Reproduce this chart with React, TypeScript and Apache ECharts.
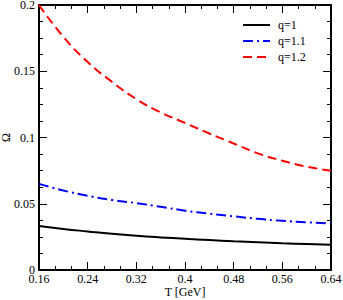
import React, { useEffect, useRef } from "react";
import * as echarts from "echarts";

const temps = [0.16, 0.2, 0.24, 0.28, 0.32, 0.36, 0.4, 0.44, 0.48, 0.52, 0.56, 0.6, 0.64];
const q1 = [0.0332, 0.031, 0.0291, 0.0273, 0.0258, 0.0246, 0.0236, 0.0226, 0.0217, 0.021, 0.0202, 0.0196, 0.019];
const q11 = [0.065, 0.06, 0.056, 0.0528, 0.0505, 0.0477, 0.0448, 0.0425, 0.0405, 0.0386, 0.0371, 0.036, 0.035];
const q12 = [0.2, 0.176, 0.157, 0.142, 0.129, 0.119, 0.111, 0.103, 0.0955, 0.088, 0.0825, 0.078, 0.075];
const seriesNames = ["q=1", "q=1.1", "q=1.2"];

const FONT = "Liberation Serif";

export default function App() {
  const ref = useRef<HTMLDivElement>(null);
  useEffect(() => {
    const chart = echarts.init(ref.current!, null, { renderer: "svg" });
    const fmt = (v: number) => String(parseFloat(v.toFixed(3)));
    const axisCommon = {
      axisLine: { show: true, onZero: false, lineStyle: { color: "#000", width: 2 } },
      axisTick: { show: true, inside: true, length: 8, lineStyle: { color: "#000", width: 1 } },
      minorTick: { show: true, length: 4, lineStyle: { color: "#000", width: 1 } },
      splitLine: { show: false },
    };
    const mk = (data: number[]) => temps.map((t, i) => [t, data[i]]);
    chart.setOption({
      animation: false,
      backgroundColor: "#fff",
      grid: { left: 39, right: 12, top: 5, bottom: 30, containLabel: false, outerBoundsMode: "none" },
      xAxis: [
        {
          ...axisCommon,
          type: "value",
          position: "bottom",
          min: 0.16,
          max: 0.64,
          interval: 0.08,
          minorTick: { ...axisCommon.minorTick, splitNumber: 3 },
          axisLabel: { color: "#000", fontFamily: FONT, fontSize: 12, lineHeight: 11, margin: 3, formatter: fmt },
          name: "T [GeV]",
          nameLocation: "middle",
          nameGap: 16,
          nameMoveOverlap: false,
          nameTextStyle: { color: "#000", fontFamily: FONT, fontSize: 12, lineHeight: 11 },
        },
        {
          ...axisCommon,
          type: "value",
          position: "top",
          min: 0.16,
          max: 0.64,
          interval: 0.08,
          minorTick: { ...axisCommon.minorTick, splitNumber: 3 },
          axisLabel: { show: false },
        },
      ],
      yAxis: [
        {
          ...axisCommon,
          type: "value",
          position: "left",
          min: 0,
          max: 0.2,
          interval: 0.05,
          minorTick: { ...axisCommon.minorTick, splitNumber: 4 },
          axisLabel: { color: "#000", fontFamily: FONT, fontSize: 12, lineHeight: 9, margin: 4, formatter: fmt },
          name: "Ω",
          nameLocation: "middle",
          nameGap: 28,
          nameRotate: 90,
          nameMoveOverlap: false,
          nameTextStyle: { color: "#000", fontFamily: FONT, fontSize: 12, lineHeight: 10 },
        },
        {
          ...axisCommon,
          type: "value",
          position: "right",
          min: 0,
          max: 0.2,
          interval: 0.05,
          minorTick: { ...axisCommon.minorTick, splitNumber: 4 },
          axisLabel: { show: false },
        },
      ],
      series: [
        {
          name: seriesNames[0],
          type: "line",
          data: mk(q1),
          smooth: true,
          showSymbol: false,
          lineStyle: { color: "#000", width: 2, type: "solid" },
        },
        {
          name: seriesNames[1],
          type: "line",
          data: mk(q11),
          smooth: true,
          showSymbol: false,
          lineStyle: { color: "#0000ff", width: 2, type: [10, 4, 2, 4] },
        },
        {
          name: seriesNames[2],
          type: "line",
          data: mk(q12),
          smooth: true,
          showSymbol: false,
          lineStyle: { color: "#ff0000", width: 2, type: [9, 5] },
        },
      ],
      graphic: [
        { type: "line", shape: { x1: 243, y1: 25, x2: 270, y2: 25 }, style: { stroke: "#000", lineWidth: 2 } },
        { type: "line", shape: { x1: 243, y1: 41, x2: 270, y2: 41 }, style: { stroke: "#0000ff", lineWidth: 2, lineDash: [10, 4, 2, 4] } },
        { type: "line", shape: { x1: 243, y1: 57, x2: 270, y2: 57 }, style: { stroke: "#ff0000", lineWidth: 2, lineDash: [9, 5] } },
        { type: "text", x: 278, y: 25, style: { text: seriesNames[0], fill: "#000", font: `12px "${FONT}"`, verticalAlign: "middle" } },
        { type: "text", x: 278, y: 41, style: { text: seriesNames[1], fill: "#000", font: `12px "${FONT}"`, verticalAlign: "middle" } },
        { type: "text", x: 278, y: 57, style: { text: seriesNames[2], fill: "#000", font: `12px "${FONT}"`, verticalAlign: "middle" } },
      ],
    });
    return () => chart.dispose();
  }, []);
  return <div ref={ref} style={{ position: "fixed", left: 0, top: 0, width: 343, height: 300 }} />;
}
